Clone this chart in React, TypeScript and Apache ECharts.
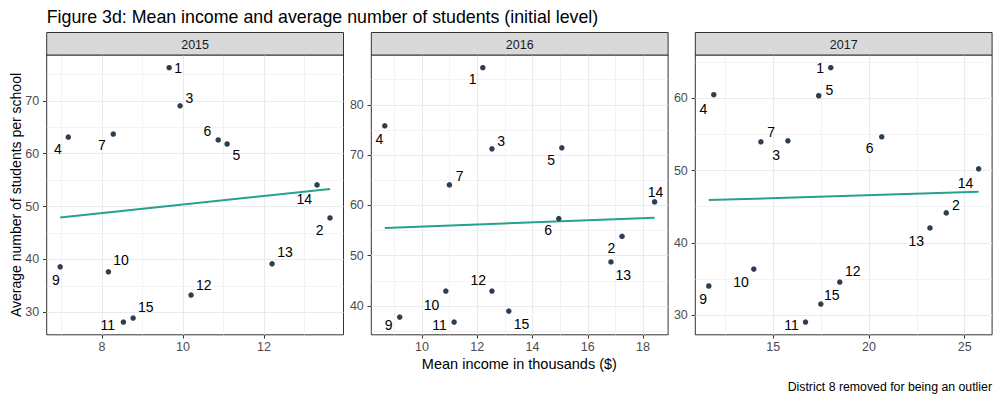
import React, { useEffect, useRef } from "react";
import * as echarts from "echarts";

// ---- data (districts; district 8 removed) ----
const districts = [1, 2, 3, 4, 5, 6, 7, 9, 10, 11, 12, 13, 14, 15];
const years = ["2015", "2016", "2017"];

const income2015 = [9.66, 13.63, 9.93, 7.17, 11.09, 10.87, 8.28, 6.97, 8.16, 8.53, 10.2, 12.2, 13.31, 8.77];
const students2015 = [76.25, 47.85, 69.05, 63.15, 61.83, 62.6, 63.72, 38.61, 37.67, 28.17, 33.28, 39.18, 54.1, 28.93];

const income2016 = [12.2, 17.24, 12.53, 8.65, 15.06, 14.95, 10.99, 9.19, 10.86, 11.16, 12.53, 16.84, 18.42, 13.14];
const students2016 = [87.36, 53.86, 71.24, 75.82, 71.44, 57.38, 64.08, 37.81, 42.98, 36.82, 42.98, 48.76, 60.7, 39.0];

const income2017 = [18.01, 24.04, 15.77, 11.9, 17.38, 20.67, 14.36, 11.64, 13.99, 16.69, 18.48, 23.19, 25.73, 17.49];
const students2017 = [64.19, 44.15, 54.1, 60.46, 60.32, 54.65, 53.96, 34.06, 36.4, 29.08, 34.6, 42.07, 50.23, 31.57];

// ---- tick labels / breaks ----
const xMajor2015 = [8, 10, 12];
const xMinor2015 = [7, 9, 11, 13];
const yMajor2015 = [30, 40, 50, 60, 70];
const yMinor2015 = [35, 45, 55, 65, 75];

const xMajor2016 = [10, 12, 14, 16, 18];
const xMinor2016 = [9, 11, 13, 15, 17];
const yMajor2016 = [40, 50, 60, 70, 80];
const yMinor2016 = [35, 45, 55, 65, 75, 85];

const xMajor2017 = [15, 20, 25];
const xMinor2017 = [12.5, 17.5, 22.5];
const yMajor2017 = [30, 40, 50, 60];
const yMinor2017 = [35, 45, 55, 65];

// ---- repelled label offsets (px) ----
const labelOffsets2015 = [[9, 0], [-10.3, 11.7], [9.3, -8], [-10.3, 11.7], [9.3, 11.3], [-10.7, -8.7], [-11.3, 11.3], [-4.3, 13.3], [12.7, -11.7], [-15.7, 2.7], [12.7, -10.3], [13, -11.7], [-12.7, 14], [12.7, -11]];
const labelOffsets2016 = [[-10.3, 11.7], [-10.7, 11.7], [9.3, -8.3], [-5.3, 13.7], [-10.7, 11.7], [-10.7, 11], [10.3, -8.7], [-11, 7.7], [-14.3, 13.7], [-14.7, 2.7], [-13.7, -10.7], [12.3, 13.3], [1, -10], [12.7, 13.3]];
const labelOffsets2017 = [[-10.7, 0], [9.7, -8.3], [-11.7, 13.7], [-10.3, 14.7], [10.7, -6], [-12, 11], [10.3, -10], [-5.7, 13], [-12.7, 13], [-14, 2.7], [13, -10.7], [-13.7, 13.3], [-13, 14], [11, -8.7]];

const FONT = "'Liberation Sans', Arial, sans-serif";
const POINT_COLOR = "#2c3e50";
const LINE_COLOR = "#26a18b";
const GRID_COLOR = "#ebebeb";

const panels = [
  { year: years[0], xs: income2015, ys: students2015, xMajor: xMajor2015, xMinor: xMinor2015, yMajor: yMajor2015, yMinor: yMinor2015, offs: labelOffsets2015 },
  { year: years[1], xs: income2016, ys: students2016, xMajor: xMajor2016, xMinor: xMinor2016, yMajor: yMajor2016, yMinor: yMinor2016, offs: labelOffsets2016 },
  { year: years[2], xs: income2017, ys: students2017, xMajor: xMajor2017, xMinor: xMinor2017, yMajor: yMajor2017, yMinor: yMinor2017, offs: labelOffsets2017 },
];

const gridLefts = [46.7, 371.3, 695.3];
const gridWidth = 296.8;
const gridTop = 55;
const gridHeight = 279.8;
const stripTop = 32.5;

function expand(vals: number[]) {
  const lo = Math.min(...vals);
  const hi = Math.max(...vals);
  const pad = (hi - lo) * 0.05;
  return [lo - pad, hi + pad];
}

function fitLine(xs: number[], ys: number[]) {
  const n = xs.length;
  const mx = xs.reduce((a, b) => a + b, 0) / n;
  const my = ys.reduce((a, b) => a + b, 0) / n;
  let sxy = 0;
  let sxx = 0;
  for (let i = 0; i < n; i++) {
    sxy += (xs[i] - mx) * (ys[i] - my);
    sxx += (xs[i] - mx) * (xs[i] - mx);
  }
  const b = sxy / sxx;
  const a = my - b * mx;
  const x0 = Math.min(...xs);
  const x1 = Math.max(...xs);
  return [[x0, a + b * x0], [x1, a + b * x1]];
}

export default function App() {
  const ref = useRef<HTMLDivElement>(null);

  useEffect(() => {
    if (!ref.current) return;
    const chart = echarts.init(ref.current, undefined, { renderer: "svg" });

    const grid: any[] = [];
    const xAxis: any[] = [];
    const yAxis: any[] = [];
    const series: any[] = [];
    const graphic: any[] = [];

    panels.forEach((p, i) => {
      grid.push({
        left: gridLefts[i],
        top: gridTop,
        width: gridWidth,
        height: gridHeight,
        show: true,
        borderColor: "#333333",
        borderWidth: 1,
        backgroundColor: "#ffffff",
        containLabel: false,
      });
      const [xmin, xmax] = expand(p.xs);
      const [ymin, ymax] = expand(p.ys);
      xAxis.push({
        gridIndex: i,
        type: "value",
        min: xmin,
        max: xmax,
        axisLine: { show: false },
        axisTick: { show: true, customValues: p.xMajor, length: 3.7, lineStyle: { color: "#333333", width: 1 } },
        axisLabel: { customValues: p.xMajor, color: "#4d4d4d", fontSize: 12.5, fontFamily: FONT, margin: 6 },
        splitLine: { show: false },
      });
      yAxis.push({
        gridIndex: i,
        type: "value",
        min: ymin,
        max: ymax,
        axisLine: { show: false },
        axisTick: { show: true, customValues: p.yMajor, length: 3.7, lineStyle: { color: "#333333", width: 1 } },
        axisLabel: { customValues: p.yMajor, color: "#4d4d4d", fontSize: 12.5, fontFamily: FONT, margin: 7.5 },
        splitLine: { show: false },
      });

      const gridLines: any[] = [];
      p.xMinor.forEach((v) => gridLines.push({ xAxis: v, lineStyle: { color: GRID_COLOR, width: 0.6, type: "solid" } }));
      p.yMinor.forEach((v) => gridLines.push({ yAxis: v, lineStyle: { color: GRID_COLOR, width: 0.6, type: "solid" } }));
      p.xMajor.forEach((v) => gridLines.push({ xAxis: v, lineStyle: { color: GRID_COLOR, width: 1.1, type: "solid" } }));
      p.yMajor.forEach((v) => gridLines.push({ yAxis: v, lineStyle: { color: GRID_COLOR, width: 1.1, type: "solid" } }));

      series.push({
        type: "scatter",
        xAxisIndex: i,
        yAxisIndex: i,
        data: [],
        z: 1,
        silent: true,
        markLine: {
          silent: true,
          symbol: ["none", "none"],
          label: { show: false },
          emphasis: { disabled: true },
          animation: false,
          z: 1,
          data: gridLines,
        },
      });

      series.push({
        type: "line",
        xAxisIndex: i,
        yAxisIndex: i,
        data: fitLine(p.xs, p.ys),
        showSymbol: false,
        symbol: "none",
        z: 3,
        silent: true,
        lineStyle: { color: LINE_COLOR, width: 2 },
      });

      series.push({
        type: "scatter",
        xAxisIndex: i,
        yAxisIndex: i,
        z: 4,
        symbol: "circle",
        symbolSize: 5.5,
        silent: true,
        itemStyle: { color: POINT_COLOR, opacity: 1 },
        label: {
          show: true,
          position: "inside",
          color: "#000000",
          opacity: 1,
          textBorderWidth: 0,
          textBorderColor: "transparent",
          fontSize: 14,
          fontFamily: FONT,
          formatter: (d: any) => String(d.value[2]),
        },
        emphasis: { disabled: true },
        data: p.xs.map((x, k) => ({
          value: [x, p.ys[k], districts[k]],
          label: { offset: p.offs[k] },
        })),
      });

      graphic.push({
        type: "rect",
        shape: { x: gridLefts[i], y: stripTop, width: gridWidth, height: gridTop - stripTop },
        style: { fill: "#d9d9d9", stroke: "#333333", lineWidth: 1 },
        z: 10,
      });
      graphic.push({
        type: "text",
        x: gridLefts[i] + gridWidth / 2,
        y: 44.5,
        z: 11,
        style: { text: p.year, fill: "#1a1a1a", fontSize: 12.5, fontFamily: FONT, textAlign: "center", textVerticalAlign: "middle" },
      });
    });

    graphic.push({
      type: "text",
      x: 46.7,
      y: 16.5,
      style: {
        text: "Figure 3d: Mean income and average number of students (initial level)",
        fill: "#000000",
        fontSize: 17.8,
        fontFamily: FONT,
        textAlign: "left",
        textVerticalAlign: "middle",
      },
    });
    graphic.push({
      type: "text",
      x: 15.5,
      y: 195,
      rotation: Math.PI / 2,
      style: {
        text: "Average number of students per school",
        fill: "#000000",
        fontSize: 14,
        fontFamily: FONT,
        textAlign: "center",
        textVerticalAlign: "middle",
      },
    });
    graphic.push({
      type: "text",
      x: (gridLefts[0] + gridLefts[2] + gridWidth) / 2,
      y: 364,
      style: {
        text: "Mean income in thousands ($)",
        fill: "#000000",
        fontSize: 14.5,
        fontFamily: FONT,
        textAlign: "center",
        textVerticalAlign: "middle",
      },
    });
    graphic.push({
      type: "text",
      x: 992,
      y: 387,
      style: {
        text: "District 8 removed for being an outlier",
        fill: "#000000",
        fontSize: 12.3,
        fontFamily: FONT,
        textAlign: "right",
        textVerticalAlign: "middle",
      },
    });

    chart.setOption({
      animation: false,
      backgroundColor: "#ffffff",
      grid,
      xAxis,
      yAxis,
      series,
      graphic,
    });

    return () => chart.dispose();
  }, []);

  return (
    <div
      ref={ref}
      style={{ position: "absolute", left: 0, top: 0, width: 1000, height: 400, background: "#ffffff" }}
    />
  );
}
